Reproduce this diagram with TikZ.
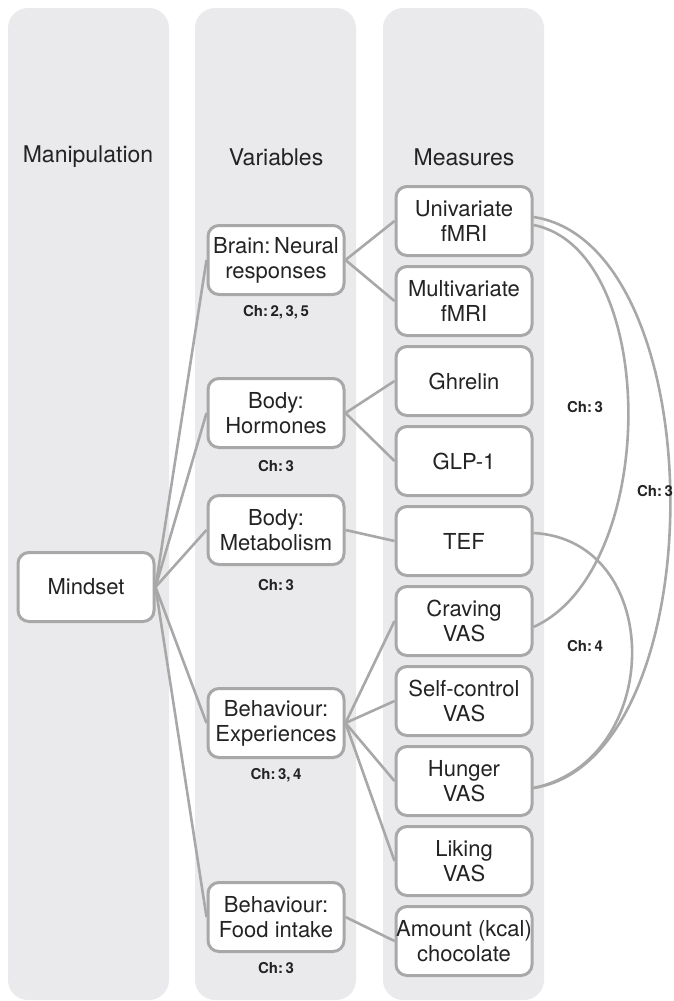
\documentclass[tikz,border=0pt]{standalone}
\usepackage{fontspec}
\setmainfont{TeX Gyre Heros}
\usepackage{tikz}
\usetikzlibrary{positioning}
\usepackage{xcolor}
\definecolor{colbg}{RGB}{234,234,236}
\definecolor{lnk}{RGB}{168,168,168}
\definecolor{txt}{RGB}{35,35,35}

\begin{document}
\begin{tikzpicture}[x=1pt, y=-1pt,
  node distance=8pt,
  colm/.style = {fill=colbg, rounded corners=20pt},
  box/.style  = {rectangle, draw=lnk, fill=white, rounded corners=11pt, line width=3pt,
                 minimum width=136pt, minimum height=69pt, align=center, inner sep=0pt,
                 font=\fontsize{22}{25}\selectfont, text=txt},
  head/.style = {font=\fontsize{23}{26}\selectfont, text=txt},
  chap/.style = {font=\bfseries\fontsize{15}{17}\selectfont, text=txt},
  link/.style = {lnk, line width=2.6pt}
]
\useasboundingbox (0,0) rectangle (674,1001);

% columns
\fill[colm] (8,8) rectangle (169,1000);
\fill[colm] (195,8) rectangle (356,1000);
\fill[colm] (383,8) rectangle (544,1000);

\node[head] (hman) at (88,157)    {Manipulation};
\node[head] (hvar) at (276,157)   {Variables};
\node[head] (hmea) at (464,157)   {Measures};

% manipulation + variables
\node[box] (mindset) at (86,587)  {Mindset};
\node[box] (brain)   at (276,260) {Brain:\,Neural\\responses};
\node[box] (horm)    at (276,413) {Body:\\Hormones};
\node[box] (metab)   at (276,530) {Body:\\Metabolism};
\node[box] (exper)   at (276,723) {Behaviour:\\Experiences};
\node[box] (food)    at (276,917) {Behaviour:\\Food intake};

\node[chap] (cbrain) at (276,312) {Ch:\,2,\,3,\,5};
\node[chap] (chorm)  at (276,466) {Ch:\,3};
\node[chap] (cmetab) at (276,585) {Ch:\,3};
\node[chap] (cexper) at (276,775) {Ch:\,3,\,4};
\node[chap] (cfood)  at (276,968) {Ch:\,3};

% measures
\node[box] (uni) at (464,221)       {Univariate\\fMRI};
\node[box, below=of uni]   (multi)  {Multivariate\\fMRI};
\node[box, below=of multi] (ghr)    {Ghrelin};
\node[box, below=of ghr]   (glp)    {GLP-1};
\node[box, below=of glp]   (tef)    {TEF};
\node[box, below=of tef]   (crav)   {Craving\\VAS};
\node[box, below=of crav]  (self)   {Self-control\\VAS};
\node[box, below=of self]  (hung)   {Hunger\\VAS};
\node[box, below=of hung]  (lik)    {Liking\\VAS};
\node[box, below=of lik]   (amt)    {Amount (kcal)\\chocolate};

\foreach \v in {brain,horm,metab,exper,food}
  \draw[link] (mindset.east) -- (\v.west);
\draw[link] (brain.east) -- (uni.west);   \draw[link] (brain.east) -- (multi.west);
\draw[link] (horm.east) -- (ghr.west);    \draw[link] (horm.east) -- (glp.west);
\draw[link] (metab.east) -- (tef.west);
\foreach \m in {crav,self,hung,lik}
  \draw[link] (exper.east) -- (\m.west);
\draw[link] (food.east) -- (amt.west);

% chapter arcs
\draw[link] ([yshift=4pt]uni.east) .. controls (716,245) and (716,760) .. ([yshift=-7pt]hung.east);
\draw[link] ([yshift=-4pt]uni.east) .. controls (660,250) and (660,570) .. ([yshift=-6pt]crav.east);
\draw[link] ([yshift=8pt]tef.east) .. controls (665,540) and (665,760) .. ([yshift=-7pt]hung.east);

\node[chap] (c1) at (585,407) {Ch:\,3};
\node[chap] (c2) at (655,491) {Ch:\,3};
\node[chap] (c3) at (585,646) {Ch:\,4};
\end{tikzpicture}
\end{document}
